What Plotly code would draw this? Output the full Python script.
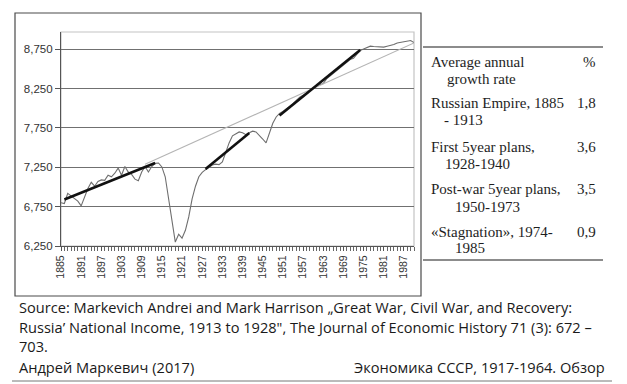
import plotly.graph_objects as go

# ---------------- data ----------------
years = list(range(1885, 1991))
income = [
    6800, 6790, 6920, 6890, 6850, 6820, 6760, 6880, 6980, 7060,   # 1885-1894
    7010, 7070, 7090, 7085, 7150, 7130, 7175, 7240, 7150, 7260,   # 1895-1904
    7190, 7160, 7100, 7080, 7190, 7260, 7190, 7260, 7300, 7305,   # 1905-1914
    7255, 7130, 6870, 6590, 6300, 6400, 6350, 6450, 6620, 6850,   # 1915-1924
    7010, 7130, 7185, 7220, 7250, 7280, 7290, 7285, 7320, 7440,   # 1925-1934
    7560, 7650, 7680, 7700, 7690, 7665, 7690, 7710, 7700, 7660,   # 1935-1944
    7610, 7560, 7680, 7810, 7890, 7935, 7960, 7990, 8025, 8060,   # 1945-1954
    8100, 8140, 8165, 8195, 8225, 8260, 8290, 8300, 8315, 8375,   # 1955-1964
    8410, 8445, 8480, 8520, 8555, 8590, 8620, 8635, 8690, 8735,   # 1965-1974
    8755, 8775, 8790, 8785, 8780, 8778, 8778, 8790, 8800, 8810,   # 1975-1984
    8830, 8838, 8845, 8852, 8862, 8835,                           # 1985-1990
]

long_trend_years = [1910, 1990]
long_trend_values = [7290, 8830]

seg1_years = [1886, 1913]
seg1_values = [6840, 7305]
seg2_years = [1928, 1941]
seg2_values = [7230, 7685]
seg3_years = [1950, 1974]
seg3_values = [7910, 8740]

y_ticks = [6250, 6750, 7250, 7750, 8250, 8750]
y_tick_labels = ["6,250", "6,750", "7,250", "7,750", "8,250", "8,750"]

table_rows = [
    ("Average annual", "growth rate", "%"),
    ("Russian Empire, 1885", "- 1913", "1,8"),
    ("First 5year plans,", "1928-1940", "3,6"),
    ("Post-war 5year plans,", "1950-1973", "3,5"),
    ("«Stagnation», 1974-", "1985", "0,9"),
]

source_lines = [
    "Source: Markevich Andrei and Mark Harrison „Great War, Civil War, and Recovery:",
    "Russia’ National Income, 1913 to 1928\", The Journal of Economic History 71 (3): 672 –",
    "703.",
]
footer_left = "Андрей Маркевич (2017)"
footer_right = "Экономика СССР, 1917-1964. Обзор"

# ---------------- layout helpers ----------------
W, H = 627, 384
L, R, T, B = 61, 414, 32, 246


def px(x):
    return (x - L) / (R - L)


def py(y):
    return (B - y) / (B - T)


fig = go.Figure()

fig.add_trace(go.Scatter(x=years, y=income, mode="lines",
                         line=dict(color="#6e6e6e", width=1.1),
                         hoverinfo="skip", showlegend=False))
fig.add_trace(go.Scatter(x=long_trend_years, y=long_trend_values, mode="lines",
                         line=dict(color="#b4b4b4", width=1.1),
                         hoverinfo="skip", showlegend=False))
for sx, sy in [(seg1_years, seg1_values), (seg2_years, seg2_values), (seg3_years, seg3_values)]:
    fig.add_trace(go.Scatter(x=sx, y=sy, mode="lines",
                             line=dict(color="#111111", width=2.6),
                             hoverinfo="skip", showlegend=False))

shapes = []
# outer chart frame
shapes.append(dict(type="rect", xref="paper", yref="paper",
                   x0=px(15), x1=px(421), y0=py(296), y1=py(13),
                   line=dict(color="#4a4a4a", width=1.2), layer="below"))
# plot area border
shapes.append(dict(type="rect", xref="paper", yref="paper",
                   x0=0, x1=1, y0=0, y1=1,
                   line=dict(color="#c4c4c4", width=1.2), layer="below"))
# table rules
for yy in (47, 260):
    shapes.append(dict(type="line", xref="paper", yref="paper",
                       x0=px(423), x1=px(603), y0=py(yy), y1=py(yy),
                       line=dict(color="#666666", width=1.3)))
# footer rule
shapes.append(dict(type="line", xref="paper", yref="paper",
                   x0=px(12), x1=px(612), y0=py(381), y1=py(381),
                   line=dict(color="#777777", width=1)))

annotations = []
serif = dict(family="Liberation Serif, Times New Roman, serif", size=15, color="#1e1e1e")
row_y = [(62, 79), (103, 120), (147, 164), (189, 207), (232, 248)]
indent = [445, 442, 443, 453, 453]
for (l1, l2, val), (y1, y2), ind in zip(table_rows, row_y, indent):
    annotations.append(dict(xref="paper", yref="paper", x=px(429), y=py(y1), text=l1,
                            showarrow=False, xanchor="left", yanchor="middle", font=serif))
    annotations.append(dict(xref="paper", yref="paper", x=px(ind), y=py(y2), text=l2,
                            showarrow=False, xanchor="left", yanchor="middle", font=serif))
    annotations.append(dict(xref="paper", yref="paper", x=px(598), y=py(y1), text=val,
                            showarrow=False, xanchor="right", yanchor="middle", font=serif))

sans = dict(family="Open Sans, Noto Sans, sans-serif", size=14.6, color="#1a1a1a")
for txt, yy in zip(source_lines, (307, 327, 346)):
    annotations.append(dict(xref="paper", yref="paper", x=px(17), y=py(yy), text=txt,
                            showarrow=False, xanchor="left", yanchor="middle", font=sans))
annotations.append(dict(xref="paper", yref="paper", x=px(17), y=py(367), text=footer_left,
                        showarrow=False, xanchor="left", yanchor="middle", font=sans))
annotations.append(dict(xref="paper", yref="paper", x=px(607), y=py(367), text=footer_right,
                        showarrow=False, xanchor="right", yanchor="middle", font=sans))

axis_font = dict(family="Liberation Sans, Arial, sans-serif", size=10.5, color="#333333")

fig.update_layout(
    width=W, height=H,
    margin=dict(l=L, r=W - R, t=T, b=H - B, pad=0),
    paper_bgcolor="white", plot_bgcolor="white",
    shapes=shapes, annotations=annotations,
    xaxis=dict(range=[1885, 1990], tick0=1885, dtick=6, tickangle=-90,
               ticks="outside", ticklen=4, tickcolor="#555555", tickwidth=1,
               showline=True, linecolor="#555555", linewidth=1.2,
               showgrid=False, zeroline=False, tickfont=axis_font,
               minor=dict(dtick=1, tick0=1885, ticks="outside", ticklen=4,
                          tickcolor="#666666", tickwidth=0.8, showgrid=False)),
    yaxis=dict(range=[6250, 8970], tickmode="array", tickvals=y_ticks, ticktext=y_tick_labels,
               ticks="outside", ticklen=5, tickcolor="#555555",
               showline=True, linecolor="#555555", linewidth=1.2,
               showgrid=True, gridcolor="#707070", gridwidth=1.3,
               zeroline=False, tickfont=dict(family="Liberation Sans, Arial, sans-serif",
                                             size=11.5, color="#333333")),
)

fig.write_html("out.html", config={"displayModeBar": False},
               post_script="document.body.style.margin='0';document.body.style.padding='0';")
